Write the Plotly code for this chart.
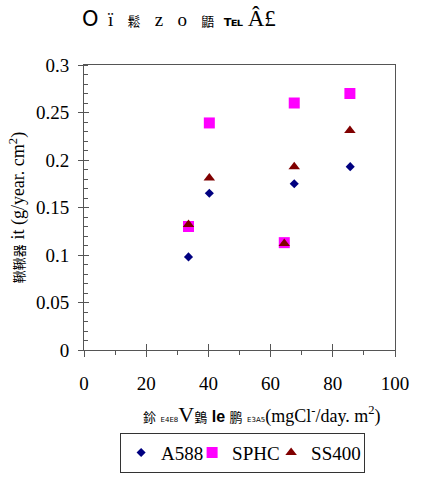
import plotly.graph_objects as go

# Data
a588_x = [33.6, 40.3, 67.6, 85.6]
a588_y = [0.098, 0.165, 0.175, 0.193]
sphc_x = [33.6, 40.3, 64.4, 67.6, 85.5]
sphc_y = [0.130, 0.239, 0.113, 0.260, 0.270]
ss400_x = [33.6, 40.3, 64.4, 67.6, 85.5]
ss400_y = [0.132, 0.181, 0.112, 0.193, 0.231]

x_ticks = [0, 20, 40, 60, 80, 100]
y_ticks = [0, 0.05, 0.1, 0.15, 0.2, 0.25, 0.3]
y_tick_labels = ["0", "0.05", "0.1", "0.15", "0.2", "0.25", "0.3"]

SERIF = "Times New Roman, Liberation Serif, serif"
CJK = "Noto Sans CJK SC"
LINE = "#555555"
SP = "&nbsp;"

small = f"font-size:13px;font-family:{CJK}"
tofu = "font-size:7px;font-family:DejaVu Sans"
title_text = (f"<span style=\"font-family:DejaVu Sans;font-size:21px\">O</span>{SP*2}ï{SP*3}"
              f"<span style=\"{small}\">鬆</span>{SP*3}z{SP*3}o{SP*3}"
              f"<span style=\"{small}\">鼯</span>{SP*2}"
              f"<span style=\"font-family:DejaVu Sans;font-weight:bold;font-size:15px\">℡</span>{SP}"
              f"<span style=\"font-size:23px\">Â£</span>")
y_title = f"<span style=\"{small}\">鞦鞦器</span> it (g/year. cm<sup>2</sup>)"
x_title = (f"<span style=\"{small}\">鉩</span> <span style=\"{tofu}\">E4E8</span>"
           f"<span style=\"font-size:22px\">V</span>"
           f"<span style=\"{small}\">䳨</span> "
           f"<span style=\"font-family:Liberation Sans;font-weight:bold;font-size:16px\">le</span> "
           f"<span style=\"{small}\">鹏</span> <span style=\"{tofu}\">E3A5</span>"
           f"(mgCl<sup>-</sup>/day. m<sup>2</sup>)")

fig = go.Figure()
fig.add_trace(go.Scatter(x=a588_x, y=a588_y, mode="markers", name="A588", legendwidth=26,
                         marker=dict(symbol="diamond", size=7, color="#000080")))
fig.add_trace(go.Scatter(x=sphc_x, y=sphc_y, mode="markers", name="SPHC", legendwidth=34,
                         marker=dict(symbol="square", size=11, color="#FF00FF")))
fig.add_trace(go.Scatter(x=ss400_x, y=ss400_y, mode="markers", name="SS400", legendwidth=48,
                         marker=dict(symbol="triangle-up", size=10, color="#800000")))
# empty trace to host overlay axes (inner half of crossing major ticks)
fig.add_trace(go.Scatter(x=[], y=[], xaxis="x2", yaxis="y2", showlegend=False,
                         hoverinfo="skip"))

fig.update_layout(
    width=421, height=485,
    margin=dict(l=84, r=14, t=65, b=129),
    paper_bgcolor="white", plot_bgcolor="white",
    font=dict(family=SERIF, size=19, color="black"),
    title=dict(text=title_text, xref="container", yref="container",
               x=82 / 421, xanchor="left", y=1 - 19 / 485, yanchor="middle",
               font=dict(family=SERIF, size=19, color="black")),
    showlegend=True,
    legend=dict(orientation="h", x=0.51, xanchor="center", y=-0.29, yanchor="top",
                bordercolor="#333333", borderwidth=1, font=dict(family=SERIF, size=19),
                itemwidth=30, tracegroupgap=0),
    xaxis=dict(range=[0, 100], tickvals=x_ticks, ticks="outside", ticklen=6,
               tickcolor=LINE, showline=True, linecolor=LINE, mirror=True,
               showgrid=False, zeroline=False, ticklabelstandoff=10,
               ticklabeloverflow="allow",
               minor=dict(dtick=10, ticks="outside", ticklen=4, tickcolor=LINE, showgrid=False),
               tickfont=dict(family=SERIF, size=19)),
    yaxis=dict(range=[0, 0.3], tickvals=y_ticks, ticktext=y_tick_labels, ticks="outside",
               ticklen=5, tickcolor=LINE, showline=True, linecolor=LINE, mirror=True,
               showgrid=False, zeroline=False, ticklabelstandoff=5,
               ticklabeloverflow="allow",
               minor=dict(dtick=0.01, ticks="inside", ticklen=4, tickcolor=LINE, showgrid=False),
               tickfont=dict(family=SERIF, size=19),
               title=dict(text=y_title, standoff=6, font=dict(family=SERIF, size=18))),
    xaxis2=dict(range=[0, 100], tickvals=x_ticks, overlaying="x", anchor="y", side="bottom",
                ticks="inside", ticklen=6, tickcolor=LINE, showticklabels=False,
                showline=False, showgrid=False, zeroline=False),
    yaxis2=dict(range=[0, 0.3], tickvals=y_ticks, overlaying="y", anchor="x", side="left",
                ticks="inside", ticklen=5, tickcolor=LINE, showticklabels=False,
                showline=False, showgrid=False, zeroline=False),
    annotations=[dict(text=x_title, xref="paper", yref="paper",
                      x=(269 - 84) / 323, y=(356 - 422) / 291, xanchor="center",
                      yanchor="middle", showarrow=False,
                      font=dict(family=SERIF, size=18, color="black"))],
)

fig.write_html("out.html")
